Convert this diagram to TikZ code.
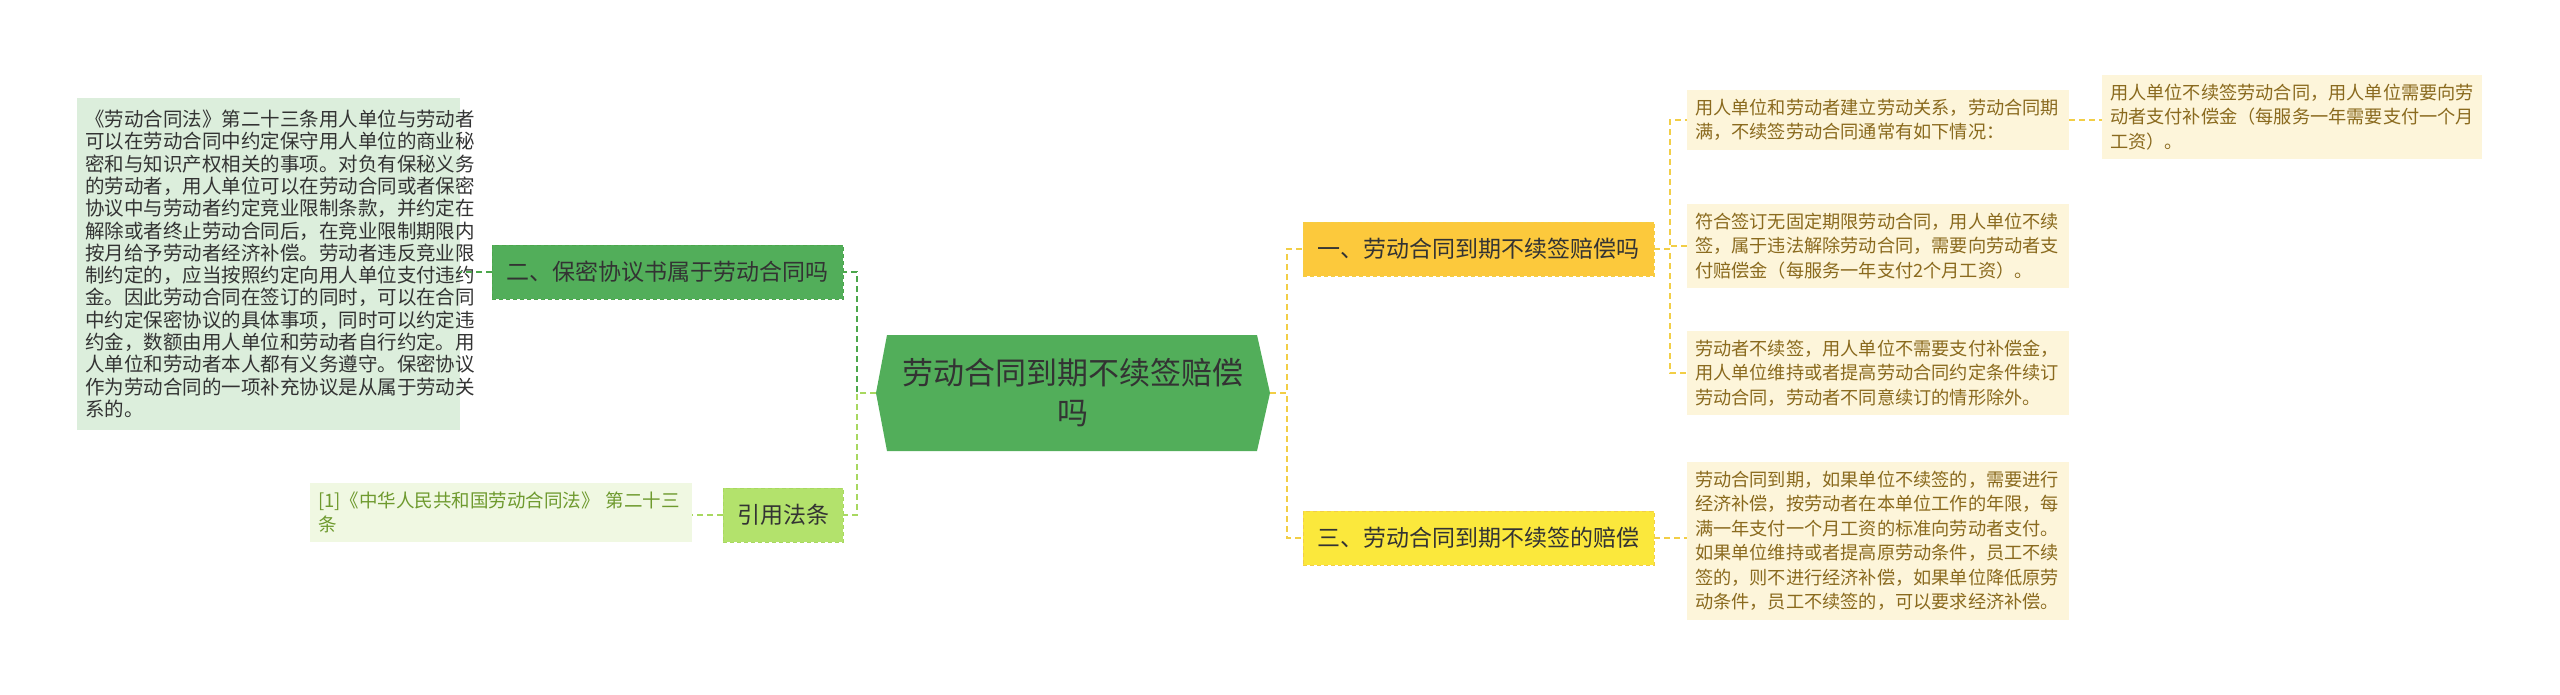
\documentclass[tikz,border=0pt]{standalone}
\usepackage{fontspec}
\setmainfont{Noto Sans CJK SC}
\begin{document}
\begin{tikzpicture}[x=1pt,y=-1pt,
 box/.style={anchor=north west,inner sep=0pt,outer sep=0pt,align=left},
 lbox/.style={box,fill=lgf,text=txtd,font=\fontsize{19.5}{22.3}\selectfont,inner xsep=8pt,inner ysep=12pt},
 rbox/.style={box,fill=ybf,text=ytx,font=\fontsize{18.2}{24.5}\selectfont,inner xsep=8pt,inner ysep=9pt,text width=366pt},
 head/.style={inner sep=0pt,outer sep=0pt,minimum height=54pt,font=\fontsize{23}{26}\selectfont,text=txtd,draw,dashed,dash pattern=on 4pt off 3pt},
 gcon/.style={draw=gline,dashed,line width=1.6pt,dash pattern=on 6pt off 4pt},
 lgcon/.style={draw=lgline,dashed,line width=1.6pt,dash pattern=on 6pt off 4pt},
 ycon/.style={draw=yline,dashed,line width=1.6pt,dash pattern=on 6pt off 4pt}]
\definecolor{lgf}{HTML}{DCEEDC}
\definecolor{txtd}{HTML}{333333}
\definecolor{ybf}{HTML}{FDF5DA}
\definecolor{ytx}{HTML}{8A6A1E}
\definecolor{cg}{HTML}{52AE5A}
\definecolor{gline}{HTML}{4CA64C}
\definecolor{lgline}{HTML}{A8D860}
\definecolor{lgfill}{HTML}{B3E26C}
\definecolor{reff}{HTML}{F0F8E2}
\definecolor{reft}{HTML}{6E9A2E}
\definecolor{yline}{HTML}{F2CE46}
\definecolor{orf}{HTML}{FCC93C}
\definecolor{yef}{HTML}{FBE83C}
\useasboundingbox (0,0) rectangle (2560,695);
% center
\fill[cg] (887,335) -- (1257,335) -- (1270,393) -- (1257,451) -- (887,451) -- (876,393) -- cycle;
\node[inner sep=0pt,font=\fontsize{31}{40}\selectfont,text=txtd,align=center] (c) at (1073,393) {劳动合同到期不续签赔偿\\吗};
\coordinate (cw) at (876,393);
\coordinate (ce) at (1270,393);
% left
\node[lbox,text width=367pt] (lt) at (77,98) {《劳动合同法》第二十三条用人单位与劳动者\\可以在劳动合同中约定保守用人单位的商业秘\\密和与知识产权相关的事项。对负有保秘义务\\的劳动者，用人单位可以在劳动合同或者保密\\协议中与劳动者约定竞业限制条款，并约定在\\解除或者终止劳动合同后，在竞业限制期限内\\按月给予劳动者经济补偿。劳动者违反竞业限\\制约定的，应当按照约定向用人单位支付违约\\金。因此劳动合同在签订的同时，可以在合同\\中约定保密协议的具体事项，同时可以约定违\\约金，数额由用人单位和劳动者自行约定。用\\人单位和劳动者本人都有义务遵守。保密协议\\作为劳动合同的一项补充协议是从属于劳动关\\系的。};
\node[head,fill=cg,draw=gline,minimum width=351pt] (n2) at (667.5,272) {二、保密协议书属于劳动合同吗};
\node[head,fill=lgfill,draw=lgline,minimum width=120pt] (yy) at (783,515) {引用法条};
\node[box,fill=reff,text=reft,font=\fontsize{18.5}{24}\selectfont,text width=366pt,inner xsep=8pt,inner ysep=9pt] (ref) at (310,483) {[1]《中华人民共和国劳动合同法》 第二十三\\条};
\draw[gcon] (cw) -- (857,393) |- (n2.east);
\draw[gcon] (n2.west) -- (lt.east |- n2.west);
\draw[lgcon] (cw) -- (857,393) |- (yy.east);
\draw[lgcon] (yy.west) -- (ref.east |- yy.west);
% right
\node[head,fill=orf,draw=yline,minimum width=351pt] (n1) at (1478.5,249) {一、劳动合同到期不续签赔偿吗};
\node[head,fill=yef,draw=yline,minimum width=351pt] (n3) at (1478.5,538) {三、劳动合同到期不续签的赔偿};
\draw[ycon] (ce) -- (1287,393) |- (n1.west);
\draw[ycon] (ce) -- (1287,393) |- (n3.west);
\node[rbox] (r1) at (1687,90) {用人单位和劳动者建立劳动关系，劳动合同期\\满，不续签劳动合同通常有如下情况：};
\node[rbox] (r2) at (1687,204) {符合签订无固定期限劳动合同，用人单位不续\\签，属于违法解除劳动合同，需要向劳动者支\\付赔偿金（每服务一年支付2个月工资）。};
\node[rbox] (r3) at (1687,331) {劳动者不续签，用人单位不需要支付补偿金，\\用人单位维持或者提高劳动合同约定条件续订\\劳动合同，劳动者不同意续订的情形除外。};
\node[rbox] (r4) at (1687,462) {劳动合同到期，如果单位不续签的，需要进行\\经济补偿，按劳动者在本单位工作的年限，每\\满一年支付一个月工资的标准向劳动者支付。\\如果单位维持或者提高原劳动条件，员工不续\\签的，则不进行经济补偿，如果单位降低原劳\\动条件，员工不续签的，可以要求经济补偿。};
\node[rbox,text width=364pt] (r5) at (2102,75) {用人单位不续签劳动合同，用人单位需要向劳\\动者支付补偿金（每服务一年需要支付一个月\\工资）。};
\draw[ycon] (n1.east) -- (1670,249) |- (r1.west);
\draw[ycon] (n1.east) -- (1670,249) |- (r2.west);
\draw[ycon] (n1.east) -- (1670,249) |- (r3.west);
\draw[ycon] (n3.east) -- (r4.west |- n3.east);
\draw[ycon] (r1.east) -- (r5.west |- r1.east);
\end{tikzpicture}
\end{document}
